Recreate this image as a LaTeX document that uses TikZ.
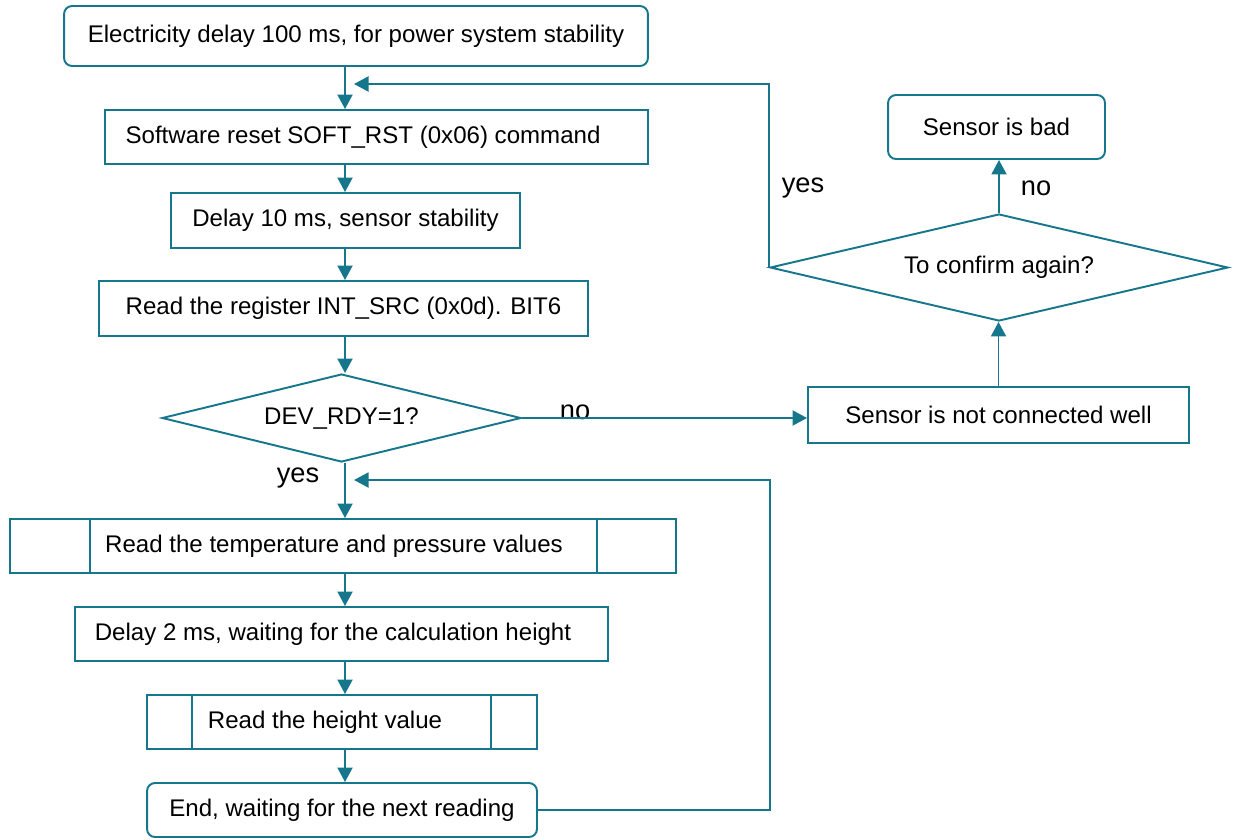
\documentclass[tikz,border=0pt]{standalone}
\usepackage{fontspec}
\setmainfont{Liberation Sans}
\usetikzlibrary{arrows.meta}
\usetikzlibrary{shapes.geometric}
\definecolor{mteal}{RGB}{22,118,140}
\tikzset{box/.style = {draw=mteal, line width=1.1pt, inner sep=0pt,
                       font=\fontsize{13.7}{16}\selectfont},
         rbox/.style = {box, rounded corners=0.16cm},
         decide/.style = {box, diamond, aspect=4},
         flow/.style = {draw=mteal, line width=1.1pt,
                        -{Triangle[length=2.9mm, width=3mm]}},
         plain/.style = {draw=mteal, line width=1.1pt},
         answer/.style = {inner sep=0pt, font=\fontsize{15.5}{18}\selectfont}}

\begin{document}
\begin{tikzpicture}[x=0.02cm, y=-0.02cm]
    \useasboundingbox (0, 0) rectangle (1236, 839);

    \coordinate (spine) at (345, 0);
    \coordinate (loopx) at (770, 0);
    \coordinate (in1) at (354, 84);
    \coordinate (in2) at (354, 480);

    \node [rbox, minimum width=11.68cm, minimum height=1.2cm] (start) at (356, 36) {Electricity delay 100 ms, for power system stability};
    \node [box, minimum width=10.86cm, minimum height=1.08cm] (reset) at (376.5, 137) {Software reset SOFT\_RST (0x06) command\kern0.54cm};
    \node [box, minimum width=6.98cm, minimum height=1.1cm] (wait10) at (345.5, 220.5) {Delay 10 ms, sensor stability};
    \node [box, minimum width=9.78cm, minimum height=1.1cm] (readreg) at (343.5, 308.5) {Read the register INT\_SRC (0x0d). BIT6};
    \node [decide, minimum width=7.18cm, minimum height=1.76cm] (ready) at (341.5, 418) {DEV\_RDY=1?};

    \node [box, minimum width=7.62cm, minimum height=1.12cm] (notconn) at (998.5, 415) {Sensor is not connected well};
    \node [decide, minimum width=9.16cm, minimum height=2.14cm] (confirm) at (999, 267.5) {To confirm again?};
    \node [rbox, minimum width=4.34cm, minimum height=1.28cm] (bad) at (996.5, 127) {Sensor is bad};

    \node [box, minimum width=13.32cm, minimum height=1.08cm] (readtp) at (343, 546) {Read the temperature and pressure values\kern0.36cm};
    \node [box, minimum width=10.66cm, minimum height=1.08cm] (wait2) at (341.5, 634) {Delay 2 ms, waiting for the calculation height\kern0.34cm};
    \node [box, minimum width=7.8cm, minimum height=1.08cm] (readh) at (342, 722) {Read the height value\kern0.68cm};
    \node [rbox, minimum width=7.8cm, minimum height=1.08cm] (finish) at (342, 810) {End, waiting for the next reading};

    % subroutine bars
    \draw [plain] ([xshift=1.62cm]readtp.north west) -- ([xshift=1.62cm]readtp.south west);
    \draw [plain] ([xshift=-1.6cm]readtp.north east) -- ([xshift=-1.6cm]readtp.south east);
    \draw [plain] ([xshift=0.92cm]readh.north west) -- ([xshift=0.92cm]readh.south west);
    \draw [plain] ([xshift=-0.94cm]readh.north east) -- ([xshift=-0.94cm]readh.south east);

    \node [answer] (no1) at (575, 412) {no};
    \node [answer] (yes1) at (298, 478) {yes};
    \node [answer] (yes2) at (803, 188) {yes};
    \node [answer] (no2) at (1036, 188) {no};

    \draw [flow] (start.south -| spine) -- (reset.north -| spine);
    \draw [flow] (reset.south -| spine) -- (wait10.north -| spine);
    \draw [flow] (wait10.south -| spine) -- (readreg.north -| spine);
    \draw [flow] (readreg.south -| spine) -- (ready.north -| spine);
    \draw [flow] (ready.south -| spine) -- (readtp.north -| spine);
    \draw [flow] (readtp.south -| spine) -- (wait2.north -| spine);
    \draw [flow] (wait2.south -| spine) -- (readh.north -| spine);
    \draw [flow] (readh.south -| spine) -- (finish.north -| spine);

    \draw [flow] (ready.east) -- (ready.east -| notconn.west);
    \draw [flow] (notconn.north) -- (notconn.north |- confirm.south);
    \draw [flow] (confirm.north) -- (confirm.north |- bad.south);
    \draw [flow] (confirm.west) -- (confirm.west |- in1) -- (in1);
    \draw [flow] (finish.east) -| (in2 -| loopx) -- (in2);
\end{tikzpicture}
\end{document}
